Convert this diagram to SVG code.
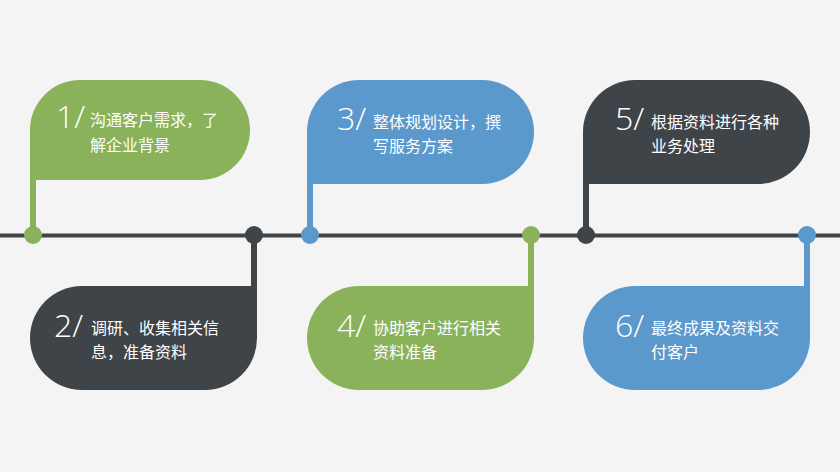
<svg xmlns="http://www.w3.org/2000/svg" width="840" height="472" viewBox="0 0 840 472">
<style>
.g{fill:#89b25b}.b{fill:#5b98cc}.d{fill:#3f4448}
.num{font-family:"Open Sans","Lato","Liberation Sans",sans-serif;font-weight:300;font-size:32px;fill:#ffffff}
.t{font-family:"Noto Sans CJK SC","Noto Sans",sans-serif;font-size:16px;fill:#ffffff}
</style>
<rect x="0" y="0" width="840" height="472" fill="#f4f4f4"/>
<g id="connectors">
<line x1="0" y1="235.5" x2="840" y2="235.5" stroke="#3f4448" stroke-width="4"/>
</g>
<g id="node1">
<rect class="g" x="30" y="170" width="6" height="65"/>
<circle class="g" cx="33" cy="235" r="9"/>
<path class="g" d="M30,180 L30,130 A50,50 0 0 1 80,80 L200,80 A50,50 0 0 1 200,180 Z"/>
<text class="num" x="56" y="128">1/</text>
<text class="t" x="90" y="126">沟通客户需求，了</text>
<text class="t" x="90" y="151">解企业背景</text>
</g>
<g id="node2">
<rect class="d" x="251" y="235" width="6" height="60"/>
<circle class="d" cx="254" cy="235" r="9"/>
<path class="d" d="M257,286 L257,338 A52,52 0 0 1 205,390 L82,390 A52,52 0 0 1 82,286 Z"/>
<text class="num" x="54" y="337">2/</text>
<text class="t" x="91" y="334">调研、收集相关信</text>
<text class="t" x="91" y="358">息，准备资料</text>
</g>
<g id="node3">
<rect class="b" x="307" y="174" width="6" height="61"/>
<circle class="b" cx="310" cy="235" r="9"/>
<path class="b" d="M307,184 L307,132 A52,52 0 0 1 359,80 L482,80 A52,52 0 0 1 482,184 Z"/>
<text class="num" x="337" y="130">3/</text>
<text class="t" x="373" y="128">整体规划设计，撰</text>
<text class="t" x="373" y="152">写服务方案</text>
</g>
<g id="node4">
<rect class="g" x="528" y="235" width="6" height="60"/>
<circle class="g" cx="531" cy="235" r="9"/>
<path class="g" d="M534,286 L534,338 A52,52 0 0 1 482,390 L359,390 A52,52 0 0 1 359,286 Z"/>
<text class="num" x="337" y="337">4/</text>
<text class="t" x="373" y="334">协助客户进行相关</text>
<text class="t" x="373" y="358">资料准备</text>
</g>
<g id="node5">
<rect class="d" x="583" y="174" width="6" height="61"/>
<circle class="d" cx="586" cy="235" r="9"/>
<path class="d" d="M583,184 L583,132 A52,52 0 0 1 635,80 L758,80 A52,52 0 0 1 758,184 Z"/>
<text class="num" x="615" y="130">5/</text>
<text class="t" x="651" y="128">根据资料进行各种</text>
<text class="t" x="651" y="152">业务处理</text>
</g>
<g id="node6">
<rect class="b" x="804" y="235" width="6" height="60"/>
<circle class="b" cx="807" cy="235" r="9"/>
<path class="b" d="M810,286 L810,338 A52,52 0 0 1 758,390 L635,390 A52,52 0 0 1 635,286 Z"/>
<text class="num" x="615" y="337">6/</text>
<text class="t" x="651" y="334">最终成果及资料交</text>
<text class="t" x="651" y="358">付客户</text>
</g>
</svg>
